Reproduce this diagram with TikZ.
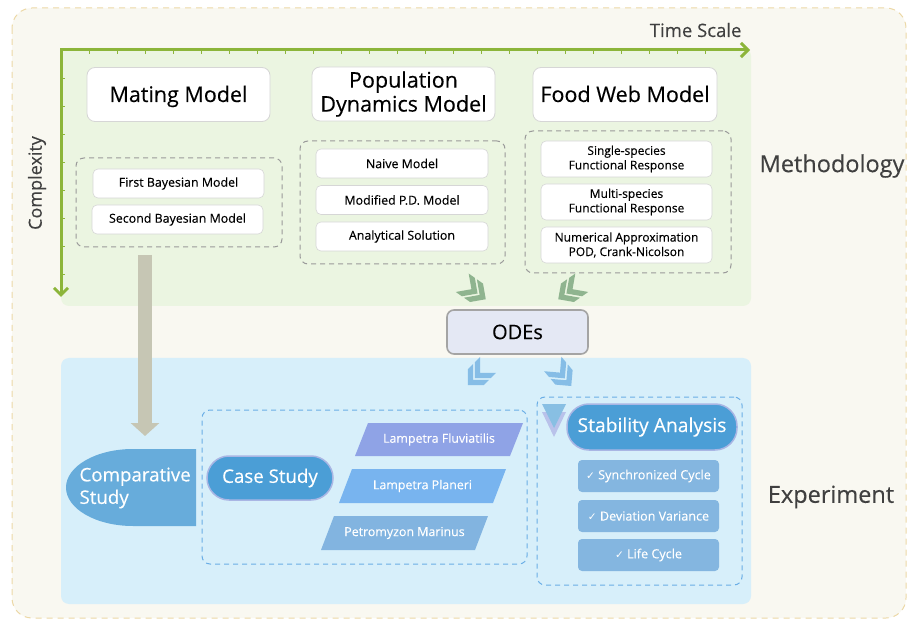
\documentclass[tikz,border=0pt]{standalone}
\usepackage{fontspec}
\setmainfont{Open Sans}[FakeBold=0.25]
\newfontfamily\symfont{DejaVu Sans}
\usetikzlibrary{arrows.meta}

\definecolor{paper}{HTML}{F9F8F1}
\definecolor{paperedge}{HTML}{ECD8A6}
\definecolor{greenbg}{HTML}{EBF5E1}
\definecolor{axisgreen}{HTML}{8CB53A}
\definecolor{bluebg}{HTML}{D7EFFA}
\definecolor{boxedge}{HTML}{D6D6D6}
\definecolor{grpgray}{HTML}{9A9A9A}
\definecolor{grpblue}{HTML}{6AAEE6}
\definecolor{pillblue}{HTML}{4B9ED6}
\definecolor{pilledge}{HTML}{A9B6E4}
\definecolor{checkblue}{HTML}{84B6E0}
\definecolor{chevgreen}{HTML}{8FB48F}
\definecolor{chevblue}{HTML}{86BDE6}
\definecolor{arrowgray}{HTML}{C6C6B4}
\definecolor{odefill}{HTML}{E4E8F4}
\definecolor{odeedge}{HTML}{A4A4A4}
\definecolor{labelgray}{HTML}{404040}
\definecolor{compblue}{HTML}{67ACDB}
\definecolor{fluv}{HTML}{8FA3E6}
\definecolor{plan}{HTML}{78B4EF}
\definecolor{petro}{HTML}{82B4E0}
\definecolor{triblue}{HTML}{88BFE3}
\definecolor{tripurple}{HTML}{B9C2EA}

\tikzset{
  headbox/.style={draw=boxedge, fill=white, rounded corners=8pt, line width=0.8pt,
    minimum width=183pt, minimum height=54pt, inner sep=0pt, align=center,
    font=\fontsize{21.5}{24}\selectfont},
  capcentre/.style={text height=15pt, text depth=0pt},
  subbox/.style={draw=boxedge, fill=white, rounded corners=5pt, line width=0.6pt,
    minimum width=172pt, minimum height=29pt, inner sep=0pt, align=center,
    font=\fontsize{12.4}{14}\selectfont},
  twoline/.style={subbox, minimum width=171pt, minimum height=36pt,
    font=\fontsize{12}{14.5}\selectfont},
  grp/.style={draw=grpgray, dashed, dash pattern=on 5pt off 4pt, line width=1pt,
    rounded corners=8pt, inner sep=0pt},
  bgrp/.style={grp, draw=grpblue},
  pill/.style={draw=pilledge, line width=1.5pt, fill=pillblue, rounded corners=22pt,
    text=white, inner sep=0pt},
  checkbox/.style={fill=checkblue, rounded corners=4pt, minimum width=141pt,
    minimum height=32pt, inner sep=0pt, text=white, font=\fontsize{12.6}{15}\selectfont},
  sidelabel/.style={text=labelgray, font=\fontsize{23.5}{27}\selectfont},
  axis/.style={draw=axisgreen, line width=3pt},
  tick/.style={draw=axisgreen, line width=0.8pt},
  species/.style={text=white, font=\fontsize{12.4}{15}\selectfont},
  pics/dchev/.style={code={
    \fill (-5.5,-9) -- (3.5,0) -- (-5.5,9) -- (-11.5,9) -- (-2.5,0) -- (-11.5,-9) -- cycle;
    \fill (2.5,-9) -- (11.5,0) -- (2.5,9) -- (-3.5,9) -- (5.5,0) -- (-3.5,-9) -- cycle;
  }}
}

\begin{document}
\begin{tikzpicture}[x=1pt, y=-1pt]
\useasboundingbox (0,0) rectangle (908,620);

% outer frame
\draw[paperedge, fill=paper, dashed, dash pattern=on 6pt off 5pt, line width=1pt,
  rounded corners=20pt] (12,8) rectangle (906,618);

% layer backgrounds
\fill[greenbg, rounded corners=8pt] (61,48) rectangle (751,306);
\fill[bluebg, rounded corners=8pt] (61,358) rectangle (751,604);

% axes with ticks
\coordinate (axX) at (750,50);
\coordinate (ax0) at (61,50);
\coordinate (axY) at (61,297);
\foreach \t in {89,117,...,730} \draw[tick] (\t,50) -- (\t,54);
\foreach \t in {78,106,...,285} \draw[tick] (61,\t) -- (65,\t);
\draw[axis, {Straight Barb[length=7pt,width=14pt]}-{Straight Barb[length=7pt,width=14pt]}]
  (axY) -- (ax0) -- (axX);
\node[anchor=base east, text=labelgray, font=\fontsize{18.5}{21}\selectfont] (timescale) at (745,37) {Time Scale};
\node[rotate=90, text=labelgray, font=\fontsize{18}{21}\selectfont] (complexity) at (37,183) {Complexity};

% side labels
\node[sidelabel] (method) at (832,166) {Methodology};
\node[sidelabel] (exper) at (831,497) {Experiment};

% model headers
\node[headbox, capcentre] (mating) at (178.5,94.5) {Mating Model};
\node[headbox] (popdyn) at (403.5,94) {Population\\Dynamics Model};
\node[headbox, capcentre, minimum width=184pt] (foodweb) at (625,94.5) {Food Web Model};

% mating model group
\node[grp, minimum width=206pt, minimum height=89pt] (g1) at (179,202.5) {};
\node[subbox, minimum width=171pt] (bay1) at (178.5,183.5) {First Bayesian Model};
\node[subbox, minimum width=171pt] (bay2) at (177.5,219.5) {Second Bayesian Model};

% population dynamics group
\node[grp, minimum width=205pt, minimum height=123pt] (g2) at (402.5,202.5) {};
\node[subbox] (naive) at (402,163.5) {Naive Model};
\node[subbox] (modpd) at (402,200) {Modified P.D. Model};
\node[subbox] (anal) at (402,236.5) {Analytical Solution};

% food web group
\node[grp, minimum width=206pt, minimum height=142pt] (g3) at (628,202) {};
\node[twoline] (single) at (626.5,159) {Single-species\\Functional Response};
\node[twoline] (multi) at (626.5,202) {Multi-species\\Functional Response};
\node[twoline] (numer) at (626.5,245) {Numerical Approximation\\POD, Crank-Nicolson};

% ODE hub
\node[draw=odeedge, fill=odefill, line width=1.6pt, rounded corners=7pt,
  minimum width=141pt, minimum height=44pt, inner sep=0pt,
  font=\fontsize{20}{23}\selectfont] (odes) at (517.5,332) {ODEs};

% flow chevrons
\pic[chevgreen, rotate=-35, scale=1.25] at (474,291) {dchev};
\pic[chevgreen, rotate=-145, scale=1.25] at (570,291) {dchev};
\pic[chevblue, rotate=-135, scale=1.25] at (478,375) {dchev};
\pic[chevblue, rotate=-50, scale=1.25] at (562,375) {dchev};

% arrow from mating model down to comparative study
\coordinate (arrA) at (145,255);
\coordinate (arrB) at (145,436);
\draw[arrowgray, line width=14pt, -{Triangle[length=13pt,width=28pt]}] (arrA) -- (arrB);

% comparative study half-ellipse
\fill[compblue] (196,449) -- (133,449) arc[start angle=270, end angle=90, x radius=67, y radius=38.5]
  -- (196,526) -- cycle;
\node[anchor=west, text=white, align=left, font=\fontsize{18.7}{22.5}\selectfont] (comp) at (76,488) {Comparative\\Study};

% case study group
\node[bgrp, minimum width=325pt, minimum height=154pt] (gcase) at (364.5,487) {};
\node[pill, minimum width=126pt, minimum height=44pt, font=\fontsize{18.7}{21}\selectfont] (case) at (270,478) {Case Study};
\fill[fluv] (355,456) -- (368,423) -- (523,423) -- (510,456) -- cycle;
\node[species] (lf) at (439,439.5) {Lampetra Fluviatilis};
\fill[plan] (339,503) -- (352,469) -- (506,469) -- (493,503) -- cycle;
\node[species] (lp) at (422.5,486) {Lampetra Planeri};
\fill[petro] (321,550) -- (334,516) -- (488,516) -- (475,550) -- cycle;
\node[species] (pm) at (404.5,533) {Petromyzon Marinus};

% stability analysis group
\node[bgrp, minimum width=205pt, minimum height=188pt] (gstab) at (639.5,491) {};
\fill[tripurple] (542,412) -- (566,412) -- (554,437) -- cycle;
\fill[triblue] (542,404) -- (566,404) -- (554,428) -- cycle;
\node[pill, minimum width=170pt, minimum height=46pt, font=\fontsize{19.3}{22}\selectfont] (stab) at (652,427) {Stability Analysis};
\node[checkbox] (sync) at (648.5,476) {{\symfont\fontsize{10.5}{12}\selectfont ✓}\ Synchronized Cycle};
\node[checkbox] (devvar) at (648.5,516) {{\symfont\fontsize{10.5}{12}\selectfont ✓}\ Deviation Variance};
\node[checkbox] (life) at (648.5,555) {{\symfont\fontsize{10.5}{12}\selectfont ✓}\ Life Cycle};
\end{tikzpicture}
\end{document}
